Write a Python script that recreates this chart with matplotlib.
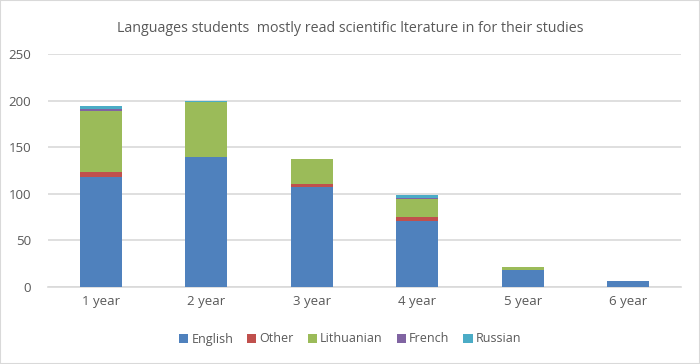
import matplotlib.pyplot as plt
import numpy as np

years = ['1 year', '2 year', '3 year', '4 year', '5 year', '6 year']
english = [118, 139, 107, 71, 18, 6]
other = [5, 1, 4, 4, 0, 0]
lithuanian = [66, 59, 26, 19, 3, 0]
french = [2, 0, 0, 2, 0, 0]
russian = [3, 1, 0, 3, 0, 0]

series = [('English', english, '#4F81BD'),
          ('Other', other, '#C0504D'),
          ('Lithuanian', lithuanian, '#9BBB59'),
          ('French', french, '#8064A2'),
          ('Russian', russian, '#4BACC6')]

plt.rcParams['font.family'] = ['Open Sans', 'DejaVu Sans']
txt = '#595959'

fig = plt.figure(figsize=(7, 3.64), dpi=100)
ax = fig.add_axes([48/700, 1-287/364, 633/700, 233/364])

x = np.arange(len(years))
bottom = np.zeros(len(years))
for name, vals, col in series:
    ax.bar(x, vals, 0.4, bottom=bottom, color=col, label=name, zorder=3)
    bottom += np.array(vals)

ax.set_xlim(-0.5, len(years) - 0.5)
ax.set_ylim(0, 250)
ax.set_yticks(range(0, 251, 50))
ax.set_xticks(x)
ax.set_xticklabels(years)
ax.grid(axis='y', color='#D9D9D9', linewidth=1.2, zorder=0)
for s in ['top', 'right', 'left']:
    ax.spines[s].set_visible(False)
ax.spines['bottom'].set_color('#D9D9D9')
ax.spines['bottom'].set_linewidth(1.2)
ax.tick_params(length=0, colors=txt, labelsize=9.5)
ax.tick_params(axis='y', pad=12)
ax.tick_params(axis='x', pad=6)

fig.text(0.5, 1-29/364, 'Languages students  mostly read scientific lterature in for their studies',
         ha='center', va='center', color=txt, fontsize=10.3)
fig.legend(loc='center', bbox_to_anchor=(0.5, 1-339/364), ncol=5, frameon=False,
           fontsize=9, labelcolor=txt, handlelength=0.75, handleheight=0.75,
           handletextpad=0.25, columnspacing=1.1)

border = plt.Rectangle((0, 0), 1, 1, transform=fig.transFigure, fill=False,
                       edgecolor='#D9D9D9', linewidth=1.5)
fig.patches.append(border)

fig.savefig('out.png', dpi=100)
